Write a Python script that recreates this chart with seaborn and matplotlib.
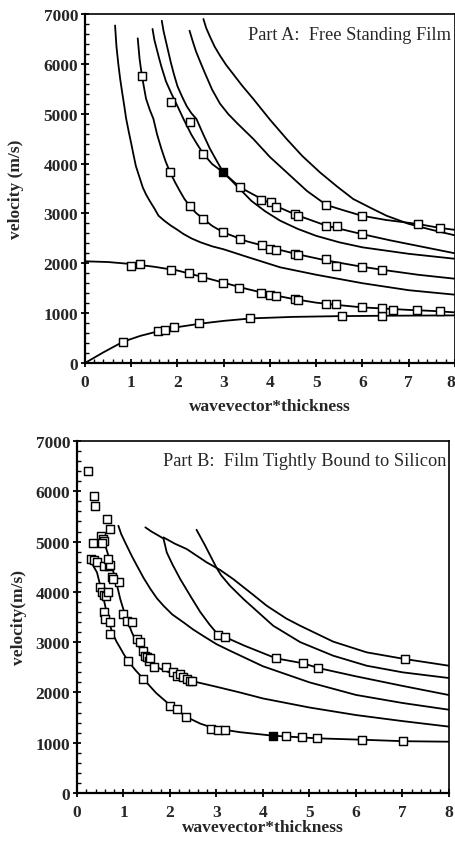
import matplotlib
matplotlib.use("Agg")
import matplotlib.pyplot as plt
import seaborn as sns
from matplotlib.ticker import MultipleLocator

# ---------------- Part A: free standing film ----------------
# computed dispersion branches (wavevector*thickness, velocity m/s)
a0_k = [0, 0.4, 0.83, 1.2, 1.6, 2.0, 2.5, 3.0, 3.6, 4.5, 5.5, 6.5, 8.0]
a0_v = [0, 215, 430, 545, 640, 720, 790, 845, 895, 925, 940, 948, 955]
s0_k = [0, 0.5, 1.0, 1.5, 2.0, 2.5, 3.0, 3.5, 4.0, 4.5, 5.0, 5.5, 6.0, 6.5, 7.0, 7.5, 8.0]
s0_v = [2040, 2025, 1985, 1930, 1855, 1735, 1610, 1485, 1375, 1285, 1210, 1160, 1115, 1090, 1065, 1045, 1015]
m3_k = [0.65, 0.68, 0.72, 0.76, 0.8, 0.85, 0.89, 0.95, 1.0, 1.05, 1.1, 1.18, 1.25, 1.32, 1.4, 1.5, 1.59, 1.72, 1.85, 2.0, 2.13, 2.3, 2.5, 2.75, 3.0, 3.5, 4.22, 5.0, 6.0, 7.0, 8.0]
m3_v = [6770, 6350, 6000, 5700, 5450, 5150, 4900, 4620, 4400, 4170, 3950, 3720, 3520, 3380, 3250, 3100, 2954, 2850, 2760, 2670, 2587, 2500, 2420, 2340, 2280, 2130, 1919, 1770, 1600, 1460, 1370]
m4_k = [1.14, 1.18, 1.23, 1.32, 1.4, 1.48, 1.56, 1.65, 1.74, 1.84, 1.95, 2.05, 2.15, 2.27, 2.4, 2.56, 2.75, 2.99, 3.5, 4.07, 4.6, 5.2, 5.98, 6.5, 7.2, 8.0]
m4_v = [6512, 6100, 5762, 5300, 5080, 4894, 4580, 4300, 4050, 3824, 3620, 3450, 3290, 3142, 3010, 2888, 2750, 2621, 2440, 2300, 2180, 2060, 1932, 1860, 1770, 1690]
m5_k = [1.46, 1.5, 1.55, 1.6, 1.65, 1.75, 1.87, 2.0, 2.13, 2.3, 2.43, 2.56, 2.75, 2.99, 3.35, 3.82, 4.1, 4.57, 5.22, 5.98, 6.6, 7.3, 8.0]
m5_v = [6700, 6480, 6300, 6120, 5950, 5650, 5400, 5150, 4894, 4580, 4380, 4192, 3990, 3824, 3524, 3289, 3160, 2970, 2754, 2587, 2460, 2330, 2200]
m6_k = [1.66, 1.7, 1.75, 1.8, 1.85, 1.92, 2.0, 2.1, 2.2, 2.3, 2.41, 2.55, 2.7, 2.85, 2.99, 3.17, 3.4, 3.6, 3.9, 4.22, 4.6, 5.0, 5.5, 6.0, 7.0, 8.0]
m6_v = [6865, 6650, 6450, 6250, 6050, 5800, 5550, 5340, 5150, 5010, 4894, 4600, 4300, 4050, 3824, 3657, 3440, 3250, 3040, 2854, 2690, 2550, 2420, 2320, 2190, 2090]
m7_k = [2.26, 2.33, 2.4, 2.5, 2.6, 2.75, 2.92, 3.1, 3.3, 3.64, 4.0, 4.36, 4.8, 5.22, 5.6, 5.98, 6.5, 7.2, 7.68, 8.0]
m7_v = [6665, 6450, 6250, 6020, 5800, 5480, 5200, 4990, 4800, 4493, 4130, 3824, 3450, 3169, 3060, 2955, 2870, 2788, 2708, 2670]
m8_k = [2.56, 2.62, 2.7, 2.8, 2.92, 3.05, 3.2, 3.4, 3.64, 4.0, 4.36, 4.7, 5.08, 5.45, 5.8, 6.2, 6.52, 7.0, 7.5, 8.0]
m8_v = [6900, 6720, 6550, 6350, 6163, 5980, 5800, 5560, 5295, 4880, 4493, 4150, 3824, 3540, 3289, 3100, 2954, 2790, 2670, 2560]

# measured velocities
pa_k = [0.83, 1.58, 1.74, 1.92, 2.46, 3.57, 5.55, 6.43,
        0.99, 1.19, 1.85, 2.25, 2.52, 2.98, 3.33, 3.8, 4.01, 4.14, 4.54, 4.61, 5.21, 5.43, 5.98, 6.43, 6.67, 7.17, 7.68,
        1.23, 1.84, 2.27, 2.56, 2.99, 3.35, 3.82, 4.01, 4.14, 4.54, 4.61, 5.21, 5.43, 5.98, 6.43,
        1.87, 2.27, 2.56, 3.35, 3.81, 4.02, 4.14, 4.54, 4.61, 5.22, 5.44, 5.98,
        5.22, 5.98, 7.2, 7.68]
pa_v = [430, 648, 655, 716, 796, 903, 936, 940,
        1950, 1978, 1872, 1805, 1715, 1610, 1495, 1400, 1360, 1350, 1283, 1265, 1176, 1176, 1116, 1097, 1055, 1063, 1050,
        5762, 3824, 3142, 2888, 2621, 2480, 2360, 2290, 2275, 2186, 2166, 2086, 1952, 1932, 1872,
        5241, 4827, 4192, 3524, 3272, 3222, 3138, 2988, 2954, 2754, 2741, 2587,
        3169, 2955, 2788, 2708]
pa_fill_k = [2.99]
pa_fill_v = [3824]

# ---------------- Part B: film bound to silicon ----------------
b1_k = [0.29, 0.36, 0.43, 0.48, 0.54, 0.6, 0.65, 0.72, 0.79, 0.85, 0.92, 1.0, 1.08, 1.25, 1.43, 1.7, 2.01, 2.37, 2.65, 2.94, 3.5, 4.22, 5.17, 6.12, 7.02, 8.0]
b1_v = [4652, 4500, 4387, 4200, 3990, 3750, 3525, 3300, 3128, 3010, 2900, 2770, 2650, 2450, 2266, 1990, 1740, 1505, 1380, 1290, 1210, 1139, 1087, 1060, 1030, 1020]
b2_k = [0.54, 0.61, 0.72, 0.83, 0.93, 1.04, 1.18, 1.27, 1.36, 1.43, 1.5, 1.6, 1.72, 1.9, 2.08, 2.44, 3.01, 3.5, 4.0, 5.0, 6.0, 7.0, 8.0]
b2_v = [5149, 4917, 4586, 4254, 3857, 3525, 3194, 3020, 2863, 2760, 2664, 2570, 2498, 2430, 2366, 2233, 2110, 2000, 1880, 1700, 1550, 1430, 1320]
b3_k = [0.89, 0.95, 1.07, 1.18, 1.29, 1.43, 1.58, 1.72, 1.86, 2.05, 2.29, 2.5, 2.72, 3.0, 3.29, 4.0, 5.0, 6.0, 7.0, 8.0]
b3_v = [5314, 5150, 4917, 4710, 4519, 4280, 4056, 3870, 3724, 3550, 3393, 3250, 3120, 2960, 2829, 2520, 2200, 1950, 1790, 1656]
b4_k = [1.47, 1.6, 1.75, 1.86, 1.93, 2.05, 2.22, 2.45, 2.65, 2.85, 3.04, 3.2, 3.6, 4.28, 4.87, 5.19, 6.0, 7.0, 8.0]
b4_v = [5283, 5200, 5120, 5060, 4785, 4550, 4254, 3900, 3600, 3350, 3141, 3095, 2930, 2678, 2578, 2485, 2320, 2130, 1948]
b5_k = [1.86, 2.1, 2.36, 2.79, 3.07, 3.36, 3.79, 4.08, 4.5, 4.8, 5.51, 6.23, 7.05, 8.0]
b5_v = [5083, 4960, 4851, 4586, 4440, 4254, 3940, 3724, 3470, 3326, 3010, 2797, 2664, 2531]
b6_k = [2.57, 2.75, 3.0, 3.1, 3.29, 3.58, 4.22, 4.8, 5.51, 6.23, 7.0, 8.0]
b6_v = [5235, 4930, 4480, 4330, 4121, 3857, 3326, 3000, 2730, 2531, 2400, 2286]

pb_k = [0.3, 0.36, 0.42, 0.5, 0.54, 0.58, 0.63, 0.66, 0.57, 0.61, 0.7, 0.72, 1.09, 1.42, 2.01, 2.14, 2.34, 2.88, 3.03, 3.18,
        4.49, 4.83, 5.17, 6.12, 7.02,
        0.24, 0.37, 0.39, 0.35, 0.52, 0.56, 0.59, 0.65, 0.7, 0.53, 0.59, 0.68, 0.72, 0.66, 0.75, 0.9, 0.78,
        1.0, 1.07, 1.18, 1.29, 1.36, 1.43, 1.47, 1.5, 1.54, 1.57, 1.65, 1.92, 2.07, 2.15, 2.21, 2.29, 2.36, 2.44, 2.47,
        3.04, 3.18, 4.28, 4.87, 5.19, 7.05]
pb_v = [4650, 4640, 4590, 4100, 4000, 3930, 3920, 4000, 3600, 3460, 3400, 3160, 2620, 2270, 1740, 1670, 1505, 1275, 1250, 1250,
        1127, 1107, 1087, 1060, 1030,
        6408, 5899, 5700, 4970, 5115, 5050, 5016, 5447, 5248, 4980, 4519, 4519, 4533, 4650, 4287, 4201, 4254,
        3559, 3426, 3393, 3062, 2996, 2830, 2730, 2700, 2630, 2680, 2498, 2498, 2399, 2332, 2366, 2300, 2266, 2233, 2233,
        3141, 3095, 2678, 2578, 2485, 2664]
pb_fill_k = [4.22]
pb_fill_v = [1139]

x_ticks = [0, 1, 2, 3, 4, 5, 6, 7, 8]
x_tick_labels = ["0", "1", "2", "3", "4", "5", "6", "7", "8"]

sns.set_theme(style="white")
plt.rcParams["font.family"] = ["Liberation Serif", "DejaVu Serif"]

W, H = 456, 845
fig = plt.figure(figsize=(W / 100, H / 100), dpi=100)
ax_a = fig.add_axes([85 / W, 1 - 364 / H, 370 / W, 349 / H])
ax_b = fig.add_axes([77 / W, 1 - 794 / H, 372 / W, 352 / H])

LW = 1.3


def draw_branches(ax, branches):
    for k, v in branches:
        sns.lineplot(x=k, y=v, ax=ax, color="black", linewidth=LW, sort=False,
                     estimator=None, legend=False)


def draw_points(ax, k, v, kf, vf):
    sns.scatterplot(x=k, y=v, ax=ax, marker="s", s=28, facecolor="white",
                    edgecolor="black", linewidth=1.05, zorder=3, legend=False)
    sns.scatterplot(x=kf, y=vf, ax=ax, marker="s", s=32, color="black",
                    edgecolor="black", linewidth=1.0, zorder=4, legend=False)


def style_axes(ax, ylabel, label_x, xlabel_y):
    ax.set_xlim(0, 8)
    ax.set_ylim(0, 7000)
    ax.set_xticks(x_ticks)
    ax.set_xticklabels(x_tick_labels)
    ax.xaxis.set_minor_locator(MultipleLocator(0.2))
    ax.yaxis.set_major_locator(MultipleLocator(1000))
    ax.yaxis.set_minor_locator(MultipleLocator(200))
    ax.tick_params(which="major", direction="inout", length=6, width=1.3,
                   color="black", labelsize=12.5, pad=2)
    ax.tick_params(which="minor", direction="in", length=3, width=1.0, color="black")
    ax.tick_params(axis="x", which="major", pad=5)
    ax.tick_params(left=True, bottom=True, which="both")
    for lab in ax.get_xticklabels() + ax.get_yticklabels():
        lab.set_fontweight("bold")
    for side in ["left", "bottom"]:
        ax.spines[side].set_linewidth(1.6)
        ax.spines[side].set_color("black")
    for side in ["top", "right"]:
        ax.spines[side].set_linewidth(1.2)
        ax.spines[side].set_color("black")
    ax.set_ylabel(ylabel, fontsize=12.5, fontweight="bold")
    ax.yaxis.set_label_coords(label_x, 0.5)
    ax.set_xlabel("wavevector*thickness", fontsize=12.5, fontweight="bold")
    ax.xaxis.set_label_coords(0.5, xlabel_y)
    ax.set_facecolor("white")


draw_branches(ax_a, [(a0_k, a0_v), (s0_k, s0_v), (m3_k, m3_v), (m4_k, m4_v),
                     (m5_k, m5_v), (m6_k, m6_v), (m7_k, m7_v), (m8_k, m8_v)])
draw_points(ax_a, pa_k, pa_v, pa_fill_k, pa_fill_v)
style_axes(ax_a, "velocity (m/s)", -0.165, -0.10)
# the last x tick label sits at the figure edge: anchor it by its right side
ax_a.get_xticklabels()[-1].set_horizontalalignment("right")
ax_a.text(0.988, 0.965, "Part A:  Free Standing Film", transform=ax_a.transAxes,
          ha="right", va="top", fontsize=13.2)

draw_branches(ax_b, [(b1_k, b1_v), (b2_k, b2_v), (b3_k, b3_v), (b4_k, b4_v),
                     (b5_k, b5_v), (b6_k, b6_v)])
draw_points(ax_b, pb_k, pb_v, pb_fill_k, pb_fill_v)
style_axes(ax_b, "velocity(m/s)", -0.135, -0.075)
ax_b.text(0.992, 0.968, "Part B:  Film Tightly Bound to Silicon", transform=ax_b.transAxes,
          ha="right", va="top", fontsize=13.2)

fig.savefig("out.png", dpi=100, facecolor="white")
